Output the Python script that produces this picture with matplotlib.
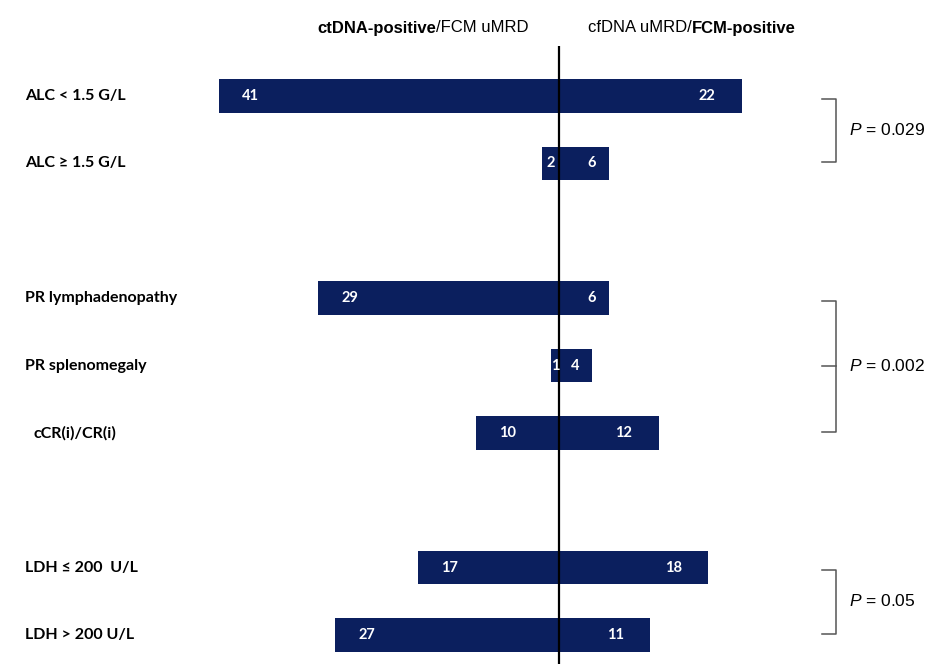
import matplotlib
matplotlib.use("Agg")
import matplotlib.pyplot as plt
from matplotlib import font_manager
from matplotlib.transforms import blended_transform_factory, offset_copy

# data
categories = ["ALC < 1.5 G/L", "ALC \u2265 1.5 G/L",
              "PR lymphadenopathy", "PR splenomegaly", "cCR(i)/CR(i)",
              "LDH \u2264 200  U/L", "LDH > 200 U/L"]
rows = [0, 1, 3, 4, 5, 7, 8]
ctdna_pos = [41, 2, 29, 1, 10, 17, 27]   # ctDNA-positive / FCM uMRD (left)
fcm_pos = [22, 6, 6, 4, 12, 18, 11]      # cfDNA uMRD / FCM-positive (right)
groups = [(0, 1), (3, 5), (7, 8)]
pvalues = ["0.029", "0.002", "0.05"]

navy = "#0b1f5e"
names = {f.name for f in font_manager.fontManager.ttflist}
narrow = "Liberation Sans Narrow" if "Liberation Sans Narrow" in names else "Liberation Sans"

plt.rcParams["mathtext.fontset"] = "custom"
plt.rcParams["mathtext.it"] = "Liberation Sans:italic"
plt.rcParams["mathtext.rm"] = "Liberation Sans"

W, H = 930, 664
fig = plt.figure(figsize=(W / 100, H / 100), dpi=100)
ax = fig.add_axes([200 / W, 0, 730 / W, (H - 46) / H])

ax.barh(rows, [-v for v in ctdna_pos], height=0.5, color=navy)
ax.barh(rows, fcm_pos, height=0.5, color=navy)
ax.axvline(0, color="black", lw=1.6)

ax.set_xlim(-359 / 8.3, 371 / 8.3)
ax.set_ylim(8.43, -0.742)
ax.axis("off")

# numbers inside bars
for r, l, rv in zip(rows, ctdna_pos, fcm_pos):
    if l < 5:
        ax.text(-l / 2, r, str(l), color="white", fontsize=10.5, fontweight="bold",
                family="Lato", ha="center", va="center")
    else:
        tr = offset_copy(ax.transData, fig=fig, x=32, y=0, units="dots")
        ax.text(-l, r, str(l), color="white", fontsize=10.5, fontweight="bold",
                family="Lato", ha="center", va="center", transform=tr)
    dx = -17 if rv < 10 else -35
    tr = offset_copy(ax.transData, fig=fig, x=dx, y=0, units="dots")
    ax.text(rv, r, str(rv), color="white", fontsize=10.5, fontweight="bold",
            family="Lato", ha="center", va="center", transform=tr)

# category labels
lab_tr = blended_transform_factory(fig.transFigure, ax.transData)
for r, c in zip(rows, categories):
    x = 33 if c.startswith("cCR") else 25
    ax.text(x / W, r, c, transform=lab_tr, fontsize=11.5, fontweight="bold",
            family="Lato", ha="left", va="center")

# brackets with P values
br_tr = blended_transform_factory(ax.transAxes, ax.transData)
x0, x1 = (822 - 200) / 730, (836 - 200) / 730
for (a, b), p in zip(groups, pvalues):
    ya, yb = a + 0.04, b - 0.02
    ax.plot([x0, x1, x1, x0], [ya, ya, yb, yb], color="#555555", lw=1.1,
            transform=br_tr, clip_on=False)
    ym = (a + b) / 2
    if b - a > 1:
        ax.plot([x0, x1], [ym, ym], color="#555555", lw=1.1,
                transform=br_tr, clip_on=False)
    ax.text((849 - 200) / 730, ym, r"$\it{P}$ = " + p, transform=br_tr,
            fontsize=12.5, family="Liberation Sans", ha="left", va="center")

# headers
hy = 1 - 28 / H
fig.text(436 / W, hy, "ctDNA-positive", fontweight="bold", family=narrow,
         fontsize=12, ha="right", va="center")
fig.text(436 / W, hy, "/FCM uMRD", family=narrow, fontsize=12,
         ha="left", va="center")
fig.text(692 / W, hy, "cfDNA uMRD/", family=narrow, fontsize=12,
         ha="right", va="center")
fig.text(692 / W, hy, "FCM-positive", fontweight="bold", family=narrow,
         fontsize=12, ha="left", va="center")

fig.savefig("out.png", dpi=100)
